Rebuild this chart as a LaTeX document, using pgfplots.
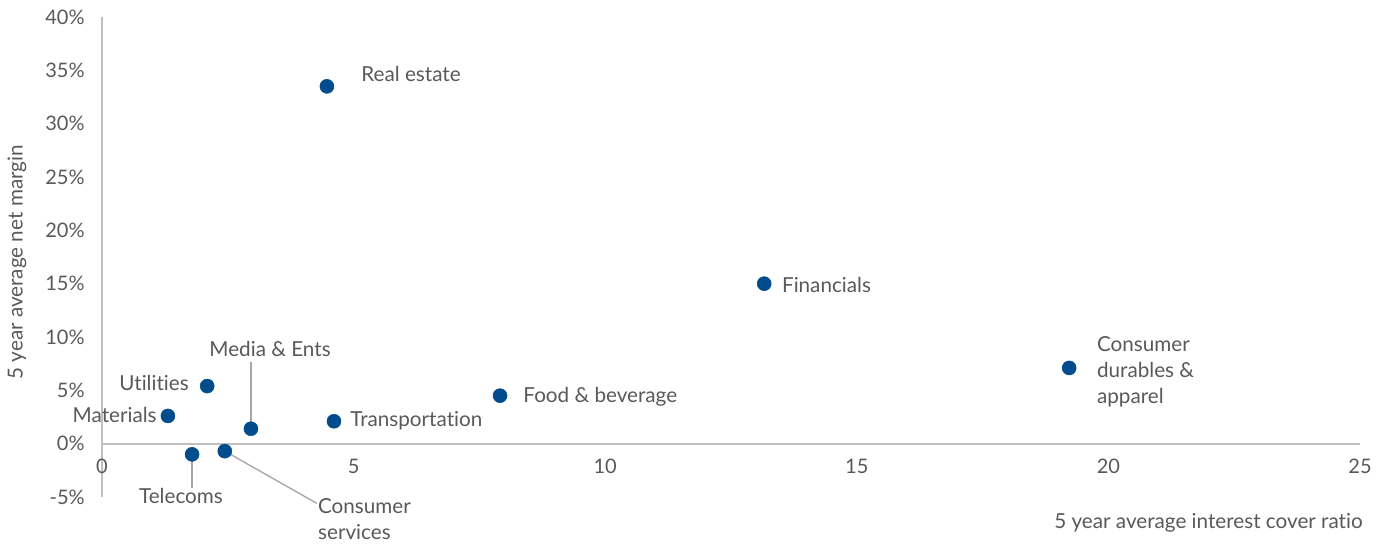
\documentclass[border=0pt]{standalone}
\usepackage{fontspec}
\setmainfont{Lato}[Ligatures=NoCommon]
\usepackage{pgfplots}
\pgfplotsset{compat=1.18}
\definecolor{txt}{HTML}{595959}
\definecolor{axg}{HTML}{BFBFBF}
\definecolor{ldr}{HTML}{A6A6A6}
\definecolor{ptc}{HTML}{004C8C}
\begin{document}
\begin{tikzpicture}[font=\fontsize{15.5pt}{19.5pt}\selectfont]
\begin{axis}[
  scale only axis, width=943.5pt, height=360pt,
  xmin=0, xmax=25, ymin=-5, ymax=40,
  axis x line=middle, axis y line=left,
  axis line style={-, draw=axg, line width=1.5pt},
  xtick={0,5,10,15,20,25},
  xticklabels={0,5,10,15,20,25},
  ytick={-5,0,5,10,15,20,25,30,35,40},
  yticklabels={-5\%,0\%,5\%,10\%,15\%,20\%,25\%,30\%,35\%,40\%},
  major tick length=0pt, tick style={draw=none},
  hide obscured x ticks=false, hide obscured y ticks=false,
  ticklabel style={font=\fontsize{15pt}{18pt}\selectfont, text=txt},
  xticklabel style={yshift=-8pt},
  yticklabel style={xshift=-9.5pt},
  clip=false,
]
\draw[ldr, line width=1pt] (axis cs:2.96,7.65) -- (axis cs:2.96,1.4);
\draw[ldr, line width=1pt] (axis cs:1.79,-1.0) -- (axis cs:1.79,-4.2);
\draw[ldr, line width=1pt] (axis cs:2.44,-0.7) -- (axis cs:4.27,-5.6);
\addplot[only marks, mark=*, mark size=5.25pt, color=ptc] table {
x y
4.47 33.5
13.16 15.0
19.22 7.1
7.91 4.5
4.61 2.1
2.96 1.4
2.09 5.4
1.31 2.6
1.79 -1.0
2.44 -0.7
};
\begin{scope}[every node/.style={text=txt, font=\fontsize{15.5pt}{19.5pt}\selectfont, inner sep=0pt}]
\node[anchor=west] at (axis cs:5.15,34.65) {Real estate};
\node[anchor=west] at (axis cs:13.51,14.9) {Financials};
\node[anchor=west, align=left] at (axis cs:19.77,6.72) {Consumer\\durables \&\\apparel};
\node[anchor=west] at (axis cs:8.37,4.38) {Food \& beverage};
\node[anchor=west] at (axis cs:4.93,2.13) {Transportation};
\node[anchor=center] at (axis cs:3.34,8.87) {Media \& Ents};
\node[anchor=east] at (axis cs:1.73,5.7) {Utilities};
\node[anchor=east] at (axis cs:1.09,2.7) {Materials};
\node[anchor=center] at (axis cs:1.57,-4.9) {Telecoms};
\node[anchor=west, align=left] at (axis cs:4.29,-7.06) {Consumer\\services};
\node[anchor=east] at (axis cs:25.06,-7.43) {5 year average interest cover ratio};
\node[rotate=90, anchor=center] at (axis cs:-1.69,17.0) {5 year average net margin};
\end{scope}
\end{axis}
\pgfresetboundingbox
\path (-76.5pt,-36pt) rectangle (963.75pt,372.75pt);
\end{tikzpicture}
\end{document}
